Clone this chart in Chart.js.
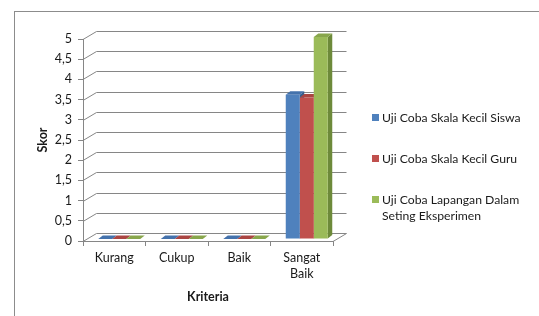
<!DOCTYPE html>
<html>
<head>
<meta charset="utf-8">
<script src="https://cdn.jsdelivr.net/npm/chart.js@4.4.1/dist/chart.umd.min.js"></script>
<style>
  html, body { margin: 0; padding: 0; background: #fff; }
  #wrap { position: relative; width: 539px; height: 316px; overflow: hidden; }
  #frame { position: absolute; left: 14px; top: 11px; width: 600px; height: 400px;
           border-left: 1px solid #8c8c8c; border-top: 1px solid #8c8c8c; }
  #chart { position: absolute; left: 0; top: 0; }
  #legend { position: absolute; left: 372px; top: 110px; font: 12.2px Lato, sans-serif; color: #1a1a1a; }
  .item { position: relative; padding-left: 10px; line-height: 16px; margin-bottom: 25px; white-space: nowrap; }
  .box { position: absolute; left: 0; top: 4px; width: 7px; height: 7px; }
</style>
</head>
<body>
<div id="wrap">
  <div id="frame"></div>
  <canvas id="chart" width="539" height="316"></canvas>
  <div id="legend"></div>
</div>
<script>
const categories = ["Kurang", "Cukup", "Baik", ["Sangat", "Baik"]];
const seriesNames = ["Uji Coba Skala Kecil Siswa", "Uji Coba Skala Kecil Guru", "Uji Coba Lapangan Dalam<br>Seting Eksperimen"];
const siswa = [0, 0, 0, 3.57];
const guru = [0, 0, 0, 3.5];
const lapangan = [0, 0, 0, 5];

const frontColors = ["#4F81BD", "#C0504D", "#9BBB59"];
const topColors = ["#4472AC", "#AA4542", "#88A64C"];
const sideColors = ["#375F8F", "#8C3836", "#6D8A3A"];
const gridColor = "#868686";

// fake 3D: floor depth, where the bars sit in it, and the bars' own depth
const DEPTH = { x: 13.5, y: -8 };
const SHIFT = { x: 5, y: -2 };
const BAR = { x: 4.5, y: -3.5 };

function poly(ctx, pts, color) {
  ctx.fillStyle = color;
  ctx.beginPath();
  ctx.moveTo(pts[0][0], pts[0][1]);
  for (let i = 1; i < pts.length; i++) ctx.lineTo(pts[i][0], pts[i][1]);
  ctx.closePath();
  ctx.fill();
}

const walls3d = {
  id: "walls3d",
  beforeDatasetsDraw(chart) {
    const { ctx, chartArea: a, scales: { y } } = chart;
    ctx.save();
    ctx.strokeStyle = gridColor;
    ctx.lineWidth = 1;
    ctx.beginPath();
    y.ticks.forEach(t => {
      const py = Math.round(y.getPixelForValue(t.value)) + 0.5;
      ctx.moveTo(a.left, py);
      ctx.lineTo(a.left + DEPTH.x, py + DEPTH.y);
      ctx.lineTo(a.right + DEPTH.x, py + DEPTH.y);
    });
    const by = Math.round(y.getPixelForValue(0)) + 0.5;
    ctx.moveTo(a.right, by);
    ctx.lineTo(a.right + DEPTH.x, by + DEPTH.y);
    ctx.stroke();
    ctx.restore();

    // bars are pushed back a little; side and top faces go first,
    // the library's front faces are painted over them
    ctx.save();
    ctx.translate(SHIFT.x, SHIFT.y);
    chart.data.datasets.forEach((ds, i) => {
      chart.getDatasetMeta(i).data.forEach(bar => {
        const { x, y, base, width } = bar.getProps(["x", "y", "base", "width"], true);
        const l = x - width / 2, r = x + width / 2;
        poly(ctx, [[r, y], [r + BAR.x, y + BAR.y], [r + BAR.x, base + BAR.y], [r, base]], sideColors[i]);
        poly(ctx, [[l, y], [l + BAR.x, y + BAR.y], [r + BAR.x, y + BAR.y], [r, y]], topColors[i]);
      });
    });
  },
  afterDatasetsDraw(chart) {
    chart.ctx.restore();
  }
};

Chart.defaults.font.family = "Lato";
Chart.defaults.font.size = 12.5;
Chart.defaults.color = "#1a1a1a";

new Chart(document.getElementById("chart"), {
  type: "bar",
  data: {
    labels: categories,
    datasets: [
      { label: "Siswa", data: siswa, backgroundColor: frontColors[0] },
      { label: "Guru", data: guru, backgroundColor: frontColors[1] },
      { label: "Lapangan", data: lapangan, backgroundColor: frontColors[2] }
    ]
  },
  options: {
    responsive: false,
    animation: false,
    events: [],
    layout: { padding: { left: 0, right: 206, top: 39, bottom: 0 } },
    datasets: { bar: { barPercentage: 1, categoryPercentage: 0.672, clip: false } },
    plugins: { legend: { display: false }, tooltip: { enabled: false } },
    scales: {
      x: {
        grid: { drawOnChartArea: false, tickLength: 5, color: gridColor },
        border: { color: gridColor },
        ticks: { padding: 4, font: { lineHeight: 1.3 }, maxRotation: 0, autoSkip: false },
        title: { display: true, text: "Kriteria", font: { size: 12.5, weight: "bold" }, padding: { bottom: 12 } },
        afterFit(s) { s.height = 75; }
      },
      y: {
        min: 0,
        max: 5,
        ticks: { stepSize: 0.5, padding: 6, autoSkip: false, callback: v => String(v).replace(".", ",") },
        grid: { drawOnChartArea: false, tickLength: 5, color: gridColor },
        border: { color: gridColor },
        title: { display: true, text: "Skor", font: { size: 12.5, weight: "bold" }, padding: { top: 35 } },
        afterFit(s) { s.width = 83; }
      }
    }
  },
  plugins: [walls3d]
});

const legend = document.getElementById("legend");
seriesNames.forEach((name, i) => {
  const item = document.createElement("div");
  item.className = "item";
  item.innerHTML = '<span class="box" style="background:' + frontColors[i] + '"></span>' + name;
  legend.appendChild(item);
});
</script>
</body>
</html>
